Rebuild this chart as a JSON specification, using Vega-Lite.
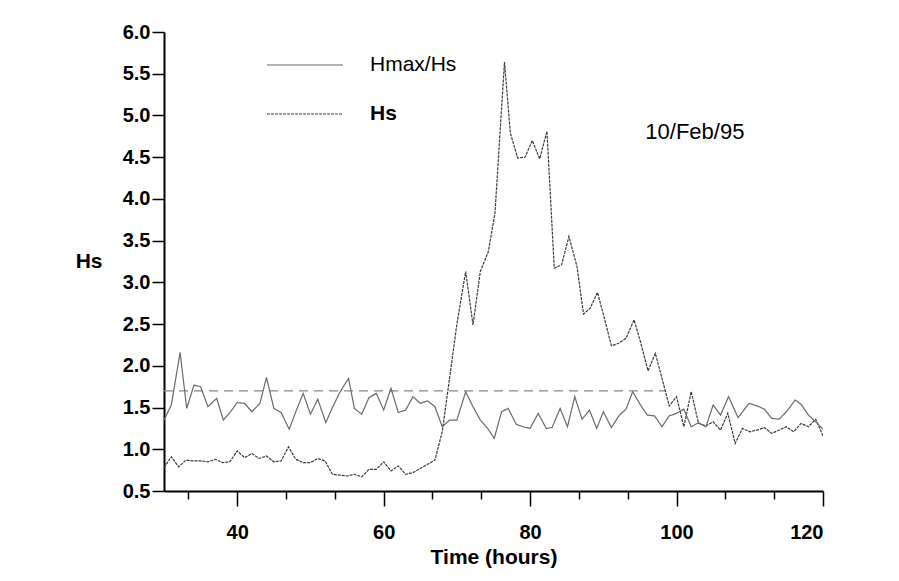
{
  "$schema": "https://vega.github.io/schema/vega-lite/v6.json",
  "width": 659,
  "height": 459,
  "autosize": {"type": "none"},
  "padding": {"left": 164, "top": 32, "right": 76, "bottom": 90},
  "background": "white",
  "config": {"view": {"stroke": null}, "font": "Liberation Sans"},
  "datasets": {
    "series": [
      {"t": 30, "v": 0.78, "s": "Hs"}, {"t": 31, "v": 0.91, "s": "Hs"}, {"t": 32, "v": 0.79, "s": "Hs"}, {"t": 33, "v": 0.87, "s": "Hs"},
      {"t": 34, "v": 0.86, "s": "Hs"}, {"t": 35, "v": 0.86, "s": "Hs"}, {"t": 36, "v": 0.85, "s": "Hs"}, {"t": 37, "v": 0.88, "s": "Hs"},
      {"t": 38, "v": 0.84, "s": "Hs"}, {"t": 39, "v": 0.85, "s": "Hs"}, {"t": 40, "v": 0.98, "s": "Hs"}, {"t": 41, "v": 0.90, "s": "Hs"},
      {"t": 42, "v": 0.95, "s": "Hs"}, {"t": 43, "v": 0.89, "s": "Hs"}, {"t": 44, "v": 0.92, "s": "Hs"}, {"t": 45, "v": 0.85, "s": "Hs"},
      {"t": 46, "v": 0.86, "s": "Hs"}, {"t": 47, "v": 1.03, "s": "Hs"}, {"t": 48, "v": 0.88, "s": "Hs"}, {"t": 49, "v": 0.84, "s": "Hs"},
      {"t": 50, "v": 0.84, "s": "Hs"}, {"t": 51, "v": 0.89, "s": "Hs"}, {"t": 52, "v": 0.86, "s": "Hs"}, {"t": 53, "v": 0.70, "s": "Hs"},
      {"t": 54, "v": 0.69, "s": "Hs"}, {"t": 55, "v": 0.68, "s": "Hs"}, {"t": 56, "v": 0.70, "s": "Hs"}, {"t": 57, "v": 0.67, "s": "Hs"},
      {"t": 58, "v": 0.76, "s": "Hs"}, {"t": 59, "v": 0.76, "s": "Hs"}, {"t": 60, "v": 0.85, "s": "Hs"}, {"t": 61, "v": 0.74, "s": "Hs"},
      {"t": 62, "v": 0.80, "s": "Hs"}, {"t": 63, "v": 0.70, "s": "Hs"}, {"t": 64, "v": 0.72, "s": "Hs"}, {"t": 65, "v": 0.77, "s": "Hs"},
      {"t": 66, "v": 0.82, "s": "Hs"}, {"t": 67, "v": 0.87, "s": "Hs"}, {"t": 68, "v": 1.21, "s": "Hs"}, {"t": 69, "v": 1.85, "s": "Hs"},
      {"t": 70, "v": 2.5, "s": "Hs"}, {"t": 71.2, "v": 3.13, "s": "Hs"}, {"t": 72.2, "v": 2.49, "s": "Hs"}, {"t": 73.2, "v": 3.13, "s": "Hs"},
      {"t": 74.3, "v": 3.37, "s": "Hs"}, {"t": 75.2, "v": 3.83, "s": "Hs"}, {"t": 76.5, "v": 5.64, "s": "Hs"}, {"t": 77.3, "v": 4.79, "s": "Hs"},
      {"t": 78.3, "v": 4.49, "s": "Hs"}, {"t": 79.3, "v": 4.50, "s": "Hs"}, {"t": 80.3, "v": 4.70, "s": "Hs"}, {"t": 81.3, "v": 4.48, "s": "Hs"},
      {"t": 82.3, "v": 4.81, "s": "Hs"}, {"t": 83.3, "v": 3.17, "s": "Hs"}, {"t": 84.3, "v": 3.21, "s": "Hs"}, {"t": 85.3, "v": 3.55, "s": "Hs"},
      {"t": 86.4, "v": 3.19, "s": "Hs"}, {"t": 87.3, "v": 2.62, "s": "Hs"}, {"t": 88.2, "v": 2.69, "s": "Hs"}, {"t": 89.2, "v": 2.88, "s": "Hs"},
      {"t": 90.2, "v": 2.55, "s": "Hs"}, {"t": 91.1, "v": 2.24, "s": "Hs"}, {"t": 92.1, "v": 2.27, "s": "Hs"}, {"t": 93.1, "v": 2.33, "s": "Hs"},
      {"t": 94.2, "v": 2.55, "s": "Hs"}, {"t": 95.1, "v": 2.28, "s": "Hs"}, {"t": 96.1, "v": 1.94, "s": "Hs"}, {"t": 97.1, "v": 2.15, "s": "Hs"},
      {"t": 98.1, "v": 1.82, "s": "Hs"}, {"t": 99, "v": 1.52, "s": "Hs"}, {"t": 100, "v": 1.63, "s": "Hs"}, {"t": 101, "v": 1.27, "s": "Hs"},
      {"t": 102, "v": 1.69, "s": "Hs"}, {"t": 103, "v": 1.31, "s": "Hs"}, {"t": 104, "v": 1.28, "s": "Hs"}, {"t": 105, "v": 1.33, "s": "Hs"},
      {"t": 106, "v": 1.23, "s": "Hs"}, {"t": 107, "v": 1.43, "s": "Hs"}, {"t": 108, "v": 1.07, "s": "Hs"}, {"t": 109, "v": 1.25, "s": "Hs"},
      {"t": 110, "v": 1.21, "s": "Hs"}, {"t": 111, "v": 1.23, "s": "Hs"}, {"t": 112, "v": 1.26, "s": "Hs"}, {"t": 113, "v": 1.19, "s": "Hs"},
      {"t": 114, "v": 1.23, "s": "Hs"}, {"t": 115, "v": 1.27, "s": "Hs"}, {"t": 116, "v": 1.21, "s": "Hs"}, {"t": 117, "v": 1.31, "s": "Hs"},
      {"t": 118, "v": 1.27, "s": "Hs"}, {"t": 119, "v": 1.36, "s": "Hs"}, {"t": 120, "v": 1.16, "s": "Hs"},

      {"t": 30, "v": 1.35, "s": "Hmax/Hs"}, {"t": 31, "v": 1.53, "s": "Hmax/Hs"}, {"t": 32.2, "v": 2.16, "s": "Hmax/Hs"}, {"t": 33.1, "v": 1.49, "s": "Hmax/Hs"},
      {"t": 34.1, "v": 1.77, "s": "Hmax/Hs"}, {"t": 35, "v": 1.75, "s": "Hmax/Hs"}, {"t": 36, "v": 1.51, "s": "Hmax/Hs"}, {"t": 37.2, "v": 1.61, "s": "Hmax/Hs"},
      {"t": 38.1, "v": 1.35, "s": "Hmax/Hs"}, {"t": 39, "v": 1.44, "s": "Hmax/Hs"}, {"t": 40, "v": 1.56, "s": "Hmax/Hs"}, {"t": 41, "v": 1.55, "s": "Hmax/Hs"},
      {"t": 42, "v": 1.45, "s": "Hmax/Hs"}, {"t": 43.1, "v": 1.55, "s": "Hmax/Hs"}, {"t": 44, "v": 1.86, "s": "Hmax/Hs"}, {"t": 45, "v": 1.49, "s": "Hmax/Hs"},
      {"t": 46, "v": 1.44, "s": "Hmax/Hs"}, {"t": 47.1, "v": 1.24, "s": "Hmax/Hs"}, {"t": 48, "v": 1.45, "s": "Hmax/Hs"}, {"t": 49, "v": 1.67, "s": "Hmax/Hs"},
      {"t": 50, "v": 1.42, "s": "Hmax/Hs"}, {"t": 51, "v": 1.60, "s": "Hmax/Hs"}, {"t": 52.1, "v": 1.32, "s": "Hmax/Hs"}, {"t": 53, "v": 1.50, "s": "Hmax/Hs"},
      {"t": 54, "v": 1.68, "s": "Hmax/Hs"}, {"t": 55.2, "v": 1.85, "s": "Hmax/Hs"}, {"t": 56, "v": 1.49, "s": "Hmax/Hs"}, {"t": 57, "v": 1.42, "s": "Hmax/Hs"},
      {"t": 58, "v": 1.62, "s": "Hmax/Hs"}, {"t": 59, "v": 1.67, "s": "Hmax/Hs"}, {"t": 60, "v": 1.47, "s": "Hmax/Hs"}, {"t": 61, "v": 1.73, "s": "Hmax/Hs"},
      {"t": 62, "v": 1.44, "s": "Hmax/Hs"}, {"t": 63, "v": 1.47, "s": "Hmax/Hs"}, {"t": 64, "v": 1.63, "s": "Hmax/Hs"}, {"t": 65, "v": 1.55, "s": "Hmax/Hs"},
      {"t": 66, "v": 1.58, "s": "Hmax/Hs"}, {"t": 67, "v": 1.51, "s": "Hmax/Hs"}, {"t": 68, "v": 1.27, "s": "Hmax/Hs"}, {"t": 69, "v": 1.35, "s": "Hmax/Hs"},
      {"t": 70, "v": 1.35, "s": "Hmax/Hs"}, {"t": 71.2, "v": 1.69, "s": "Hmax/Hs"}, {"t": 72.2, "v": 1.51, "s": "Hmax/Hs"}, {"t": 73.2, "v": 1.35, "s": "Hmax/Hs"},
      {"t": 74.2, "v": 1.25, "s": "Hmax/Hs"}, {"t": 75.1, "v": 1.13, "s": "Hmax/Hs"}, {"t": 76.1, "v": 1.45, "s": "Hmax/Hs"}, {"t": 77, "v": 1.49, "s": "Hmax/Hs"},
      {"t": 78.1, "v": 1.30, "s": "Hmax/Hs"}, {"t": 79, "v": 1.27, "s": "Hmax/Hs"}, {"t": 80, "v": 1.25, "s": "Hmax/Hs"}, {"t": 81.1, "v": 1.43, "s": "Hmax/Hs"},
      {"t": 82.2, "v": 1.25, "s": "Hmax/Hs"}, {"t": 83, "v": 1.26, "s": "Hmax/Hs"}, {"t": 84.1, "v": 1.49, "s": "Hmax/Hs"}, {"t": 85.1, "v": 1.27, "s": "Hmax/Hs"},
      {"t": 86.1, "v": 1.63, "s": "Hmax/Hs"}, {"t": 87.1, "v": 1.36, "s": "Hmax/Hs"}, {"t": 88.1, "v": 1.47, "s": "Hmax/Hs"}, {"t": 89.1, "v": 1.25, "s": "Hmax/Hs"},
      {"t": 90, "v": 1.45, "s": "Hmax/Hs"}, {"t": 91.1, "v": 1.26, "s": "Hmax/Hs"}, {"t": 92.2, "v": 1.41, "s": "Hmax/Hs"}, {"t": 93.1, "v": 1.48, "s": "Hmax/Hs"},
      {"t": 94, "v": 1.69, "s": "Hmax/Hs"}, {"t": 95, "v": 1.54, "s": "Hmax/Hs"}, {"t": 96, "v": 1.41, "s": "Hmax/Hs"}, {"t": 97, "v": 1.40, "s": "Hmax/Hs"},
      {"t": 98, "v": 1.27, "s": "Hmax/Hs"}, {"t": 99, "v": 1.40, "s": "Hmax/Hs"}, {"t": 100, "v": 1.43, "s": "Hmax/Hs"}, {"t": 101, "v": 1.48, "s": "Hmax/Hs"},
      {"t": 102, "v": 1.27, "s": "Hmax/Hs"}, {"t": 103, "v": 1.32, "s": "Hmax/Hs"}, {"t": 104, "v": 1.27, "s": "Hmax/Hs"}, {"t": 105, "v": 1.53, "s": "Hmax/Hs"},
      {"t": 106, "v": 1.41, "s": "Hmax/Hs"}, {"t": 107.1, "v": 1.63, "s": "Hmax/Hs"}, {"t": 108.4, "v": 1.38, "s": "Hmax/Hs"}, {"t": 109.9, "v": 1.55, "s": "Hmax/Hs"},
      {"t": 111, "v": 1.52, "s": "Hmax/Hs"}, {"t": 112, "v": 1.48, "s": "Hmax/Hs"}, {"t": 113, "v": 1.37, "s": "Hmax/Hs"}, {"t": 114, "v": 1.36, "s": "Hmax/Hs"},
      {"t": 115, "v": 1.45, "s": "Hmax/Hs"}, {"t": 116.2, "v": 1.59, "s": "Hmax/Hs"}, {"t": 117, "v": 1.54, "s": "Hmax/Hs"}, {"t": 118, "v": 1.41, "s": "Hmax/Hs"},
      {"t": 119, "v": 1.33, "s": "Hmax/Hs"}, {"t": 120, "v": 1.24, "s": "Hmax/Hs"}
    ]
  },
  "layer": [
    {
      "data": {"values": [{"t": 30, "t2": 98.4, "v": 1.7}]},
      "mark": {"type": "rule", "color": "#888888", "strokeWidth": 1.2, "strokeDash": [9, 6]},
      "encoding": {
        "x": {"field": "t", "type": "quantitative", "scale": {"domain": [30, 120], "nice": false, "zero": false}},
        "x2": {"field": "t2"},
        "y": {"field": "v", "type": "quantitative", "scale": {"domain": [0.5, 6], "nice": false, "zero": false}}
      }
    },
    {
      "data": {"name": "series"},
      "mark": {"type": "line", "strokeWidth": 1.2, "clip": true},
      "encoding": {
        "x": {
          "field": "t", "type": "quantitative",
          "scale": {"domain": [30, 120], "nice": false, "zero": false},
          "axis": {
            "values": [33.333, 40, 46.667, 53.333, 60, 66.667, 73.333, 80, 86.667, 93.333, 100, 106.667, 113.333, 120],
            "labelExpr": "datum.value % 20 === 0 ? datum.label : ''",
            "tickSize": {"condition": {"test": "datum.value % 20 === 0", "value": 15}, "value": 8},
            "tickColor": "black", "tickWidth": 1.5,
            "domainColor": "black", "domainWidth": 2,
            "grid": false,
            "labelFontSize": 20, "labelFontWeight": "bold", "labelColor": "black",
            "labelPadding": 16, "labelFont": "Liberation Sans",
            "title": "Time (hours)", "titleFontSize": 21, "titleFontWeight": "bold", "titleColor": "black",
            "titleFont": "Liberation Sans", "titleY": 66, "titleBaseline": "middle"
          }
        },
        "y": {
          "field": "v", "type": "quantitative",
          "scale": {"domain": [0.5, 6], "nice": false, "zero": false},
          "axis": {
            "values": [0.5, 0.75, 1, 1.25, 1.5, 1.75, 2, 2.25, 2.5, 2.75, 3, 3.25, 3.5, 3.75, 4, 4.25, 4.5, 4.75, 5, 5.25, 5.5, 5.75, 6],
            "format": ".1f",
            "labelExpr": "datum.value % 0.5 === 0 ? datum.label : ''",
            "tickSize": {"condition": {"test": "datum.value % 0.5 === 0", "value": 12}, "value": 6},
            "tickColor": "black", "tickWidth": 1.5,
            "domainColor": "black", "domainWidth": 2,
            "grid": false,
            "labelFontSize": 20, "labelFontWeight": "bold", "labelColor": "black",
            "labelPadding": 2, "labelFont": "Liberation Sans",
            "title": "Hs", "titleFontSize": 21, "titleFontWeight": "bold", "titleColor": "black",
            "titleFont": "Liberation Sans", "titleAngle": 0, "titleX": -62, "titleY": 229.5,
            "titleAlign": "right", "titleBaseline": "middle"
          }
        },
        "color": {
          "field": "s", "type": "nominal",
          "scale": {"domain": ["Hmax/Hs", "Hs"], "range": ["#6a6a6a", "#3a3a3a"]},
          "legend": {
            "orient": "none", "legendX": 102, "legendY": -6, "title": null,
            "symbolType": "stroke", "symbolSize": 5776, "symbolStrokeWidth": 1.2,
            "labelFontSize": 21, "labelFont": "Liberation Sans", "labelColor": "black",
            "labelOffset": 26, "rowPadding": -4,
            "encode": {"labels": {"update": {"fontWeight": {"signal": "datum.label === 'Hs' ? 'bold' : 'normal'"}}}}
          }
        },
        "strokeDash": {
          "field": "s", "type": "nominal",
          "scale": {"domain": ["Hmax/Hs", "Hs"], "range": [[1, 0], [3, 1]]},
          "legend": {
            "orient": "none", "legendX": 102, "legendY": -6, "title": null,
            "symbolType": "stroke", "symbolSize": 5776, "symbolStrokeWidth": 1.2,
            "labelFontSize": 21, "labelFont": "Liberation Sans", "labelColor": "black",
            "labelOffset": 26, "rowPadding": -4,
            "encode": {"labels": {"update": {"fontWeight": {"signal": "datum.label === 'Hs' ? 'bold' : 'normal'"}}}}
          }
        }
      }
    },
    {
      "data": {"values": [{"t": 102.5, "v": 4.8, "label": "10/Feb/95"}]},
      "mark": {"type": "text", "fontSize": 22, "font": "Liberation Sans", "color": "black", "align": "center", "baseline": "middle"},
      "encoding": {
        "x": {"field": "t", "type": "quantitative"},
        "y": {"field": "v", "type": "quantitative"},
        "text": {"field": "label"}
      }
    }
  ]
}
